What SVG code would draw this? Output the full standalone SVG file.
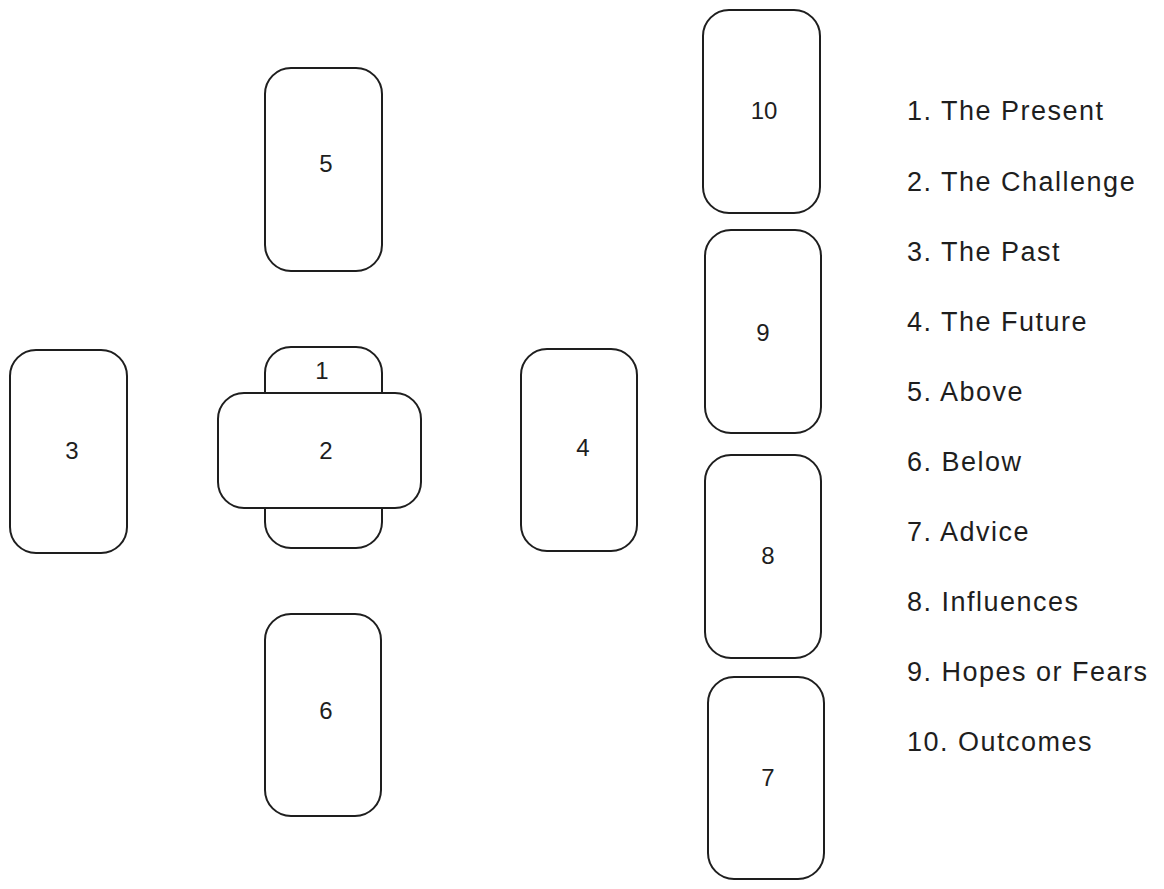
<svg xmlns="http://www.w3.org/2000/svg" width="1164" height="889" viewBox="0 0 1164 889">
<style>
.card{fill:#ffffff;stroke:#1e1e1e;stroke-width:2;}
.num{font-family:"Liberation Sans",Arial,sans-serif;font-size:24px;fill:#1e1e1e;text-anchor:middle;dominant-baseline:central;}
.leg{font-family:"Liberation Sans",Arial,sans-serif;font-size:27px;fill:#1e1e1e;letter-spacing:1.5px;dominant-baseline:central;}
</style>
<rect width="1164" height="889" fill="#ffffff"/>
<g id="card5"><rect class="card" x="265" y="68" width="117" height="203" rx="26"/><text class="num" x="326" y="163">5</text></g>
<g id="card1"><rect class="card" x="265" y="347" width="117" height="201" rx="26"/><text class="num" x="322" y="370">1</text></g>
<g id="card2"><rect class="card" x="218" y="393" width="203" height="115" rx="26"/><text class="num" x="326" y="450">2</text></g>
<g id="card3"><rect class="card" x="10" y="350" width="117" height="203" rx="26"/><text class="num" x="72" y="450">3</text></g>
<g id="card4"><rect class="card" x="521" y="349" width="116" height="202" rx="26"/><text class="num" x="583" y="447">4</text></g>
<g id="card6"><rect class="card" x="265" y="614" width="116" height="202" rx="26"/><text class="num" x="326" y="710">6</text></g>
<g id="card10"><rect class="card" x="703" y="10" width="117" height="203" rx="26"/><text class="num" x="764" y="110">10</text></g>
<g id="card9"><rect class="card" x="705" y="230" width="116" height="203" rx="26"/><text class="num" x="763" y="332">9</text></g>
<g id="card8"><rect class="card" x="705" y="455" width="116" height="203" rx="26"/><text class="num" x="768" y="555">8</text></g>
<g id="card7"><rect class="card" x="708" y="677" width="116" height="202" rx="26"/><text class="num" x="768" y="777">7</text></g>
<g id="legend">
<text class="leg" x="907" y="111">1. The Present</text>
<text class="leg" x="907" y="182">2. The Challenge</text>
<text class="leg" x="907" y="252">3. The Past</text>
<text class="leg" x="907" y="322">4. The Future</text>
<text class="leg" x="907" y="392">5. Above</text>
<text class="leg" x="907" y="462">6. Below</text>
<text class="leg" x="907" y="532">7. Advice</text>
<text class="leg" x="907" y="602">8. Influences</text>
<text class="leg" x="907" y="672">9. Hopes or Fears</text>
<text class="leg" x="907" y="742">10. Outcomes</text>
</g>
<g id="connectors"></g>
</svg>
